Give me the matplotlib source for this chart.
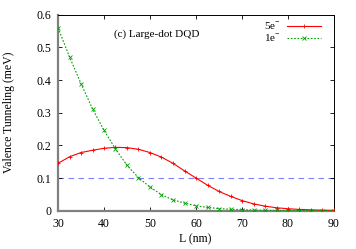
import matplotlib
matplotlib.use("Agg")
import matplotlib.pyplot as plt
import numpy as np
from matplotlib.lines import Line2D

L = [30, 32.5, 35, 37.5, 40, 42.5, 45, 47.5, 50, 52.5, 55, 57.5, 60, 62.5, 65,
     67.5, 70, 72.5, 75, 77.5, 80, 82.5, 85, 87.5, 90]
t5 = [0.145, 0.165, 0.178, 0.185, 0.191, 0.194, 0.193, 0.188, 0.178, 0.164, 0.145,
      0.122, 0.100, 0.078, 0.059, 0.044, 0.031, 0.021, 0.014, 0.009, 0.006, 0.004,
      0.0025, 0.0015, 0.001]
t1 = [0.560, 0.471, 0.389, 0.312, 0.246, 0.189, 0.139, 0.101, 0.0725, 0.049, 0.033,
      0.0235, 0.015, 0.010, 0.0065, 0.0045, 0.003, 0.002, 0.0013, 0.0009, 0.0006,
      0.0004, 0.0003, 0.0002, 0.0001]
threshold = 0.1
xticks = [30, 40, 50, 60, 70, 80, 90]
yticks = [0, 0.1, 0.2, 0.3, 0.4, 0.5, 0.6]
ytick_labels = ["0", "0.1", "0.2", "0.3", "0.4", "0.5", "0.6"]

plt.rcParams['font.family'] = ['Liberation Serif', 'DejaVu Serif']
plt.rcParams['font.size'] = 8.5
plt.rcParams['mathtext.fontset'] = 'custom'
plt.rcParams['mathtext.rm'] = 'Liberation Serif'

fig = plt.figure(figsize=(3.56, 2.49), dpi=100)
ax = fig.add_axes([58/356, 1-210.7/249, (334-58)/356, (210.7-14.7)/249])

ax.axhline(threshold, color='#8080ff', lw=0.8, ls=(0, (5, 4)), zorder=1)
ax.plot(L, t5, color='#ff0000', lw=0.8, marker='+', ms=3.5, mew=0.6, zorder=3)
ax.plot(L, t1, color='#00a000', lw=0.8, ls=(0, (1.5, 1.5)), marker='x', ms=2.8, mew=0.6, zorder=3)

ax.set_xlim(30, 90)
ax.set_ylim(0, 0.6)
ax.set_xticks(xticks)
ax.set_yticks(yticks)
ax.set_yticklabels(ytick_labels)
ax.tick_params(axis='both', direction='in', length=3, width=0.6, top=True, right=True)
ax.tick_params(axis='y', pad=5)
ax.tick_params(axis='x', pad=5)
for s in ['left', 'bottom']:
    ax.spines[s].set_color('#808080')
    ax.spines[s].set_linewidth(1.6)
for s in ['top', 'right']:
    ax.spines[s].set_color('black')
    ax.spines[s].set_linewidth(0.7)

ax.set_xlabel('L (nm)')
ax.set_ylabel('Valence Tunneling (meV)')
ax.xaxis.set_label_coords((195 - 58) / 276, (210.7 - 233) / 196)
ax.yaxis.set_label_coords((15 - 58) / 276, 0.5)

ax.text((114 - 58) / 276, (210.7 - 34) / 196, '(c) Large-dot DQD', fontsize=8,
        transform=ax.transAxes, ha='left', va='center')

h5 = Line2D([], [], color='#ff0000', lw=0.8, marker='+', ms=3.5, mew=0.6)
h1 = Line2D([], [], color='#00a000', lw=0.8, ls=(0, (1.5, 1.5)), marker='x', ms=2.8, mew=0.6)
leg = ax.legend([h5, h1], ['5e$^{-}$', '1e$^{-}$'], loc='upper right', frameon=False,
                markerfirst=False, handlelength=3.0, handletextpad=0.6,
                borderaxespad=0.3, labelspacing=0.05, fontsize=8,
                bbox_to_anchor=(0.98, 1.01))

fig.savefig('out.png', dpi=100)
